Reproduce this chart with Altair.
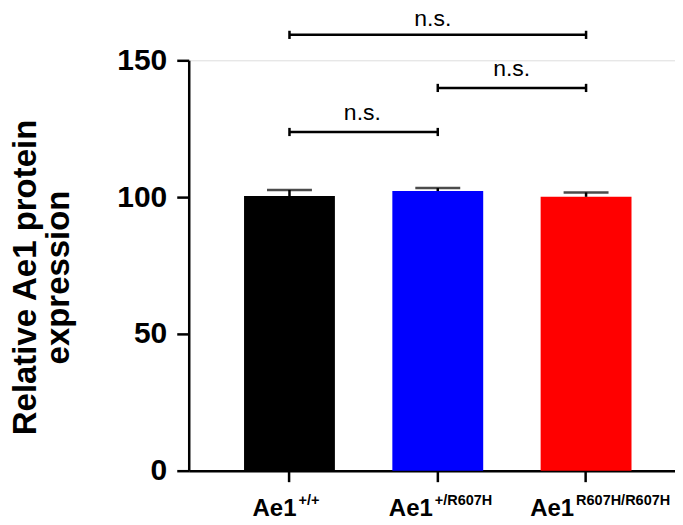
import altair as alt
import pandas as pd

# ---- data ----
groups = ["WT", "HET", "HOM"]
sups = ["+/+", "+/R607H", "R607H/R607H"]
means = [100.4, 102.2, 100.1]
sems = [2.2, 1.1, 1.6]
colors = ["#000000", "#0000FF", "#FF0000"]

# significance brackets: left group, right group, bracket level, label level
br_left = ["WT", "HET", "WT"]
br_right = ["HOM", "HOM", "HET"]
br_y = [159.3, 139.9, 123.8]
br_text_y = [162.4, 144.2, 128.1]
br_text = ["n.s.", "n.s.", "n.s."]

W, H = 487, 411
FONT = "Liberation Sans"

df = pd.DataFrame({"g": groups, "m": means, "s": sems, "c": colors, "sup": sups})
df["top"] = df["m"] + df["s"]

xscale = alt.Scale(domain=groups, paddingInner=0.385, paddingOuter=0.332, align=0.56)
yscale = alt.Scale(domain=[0, 150], nice=False)

x_enc = alt.X("g:N", scale=xscale, sort=groups,
              axis=alt.Axis(title=None, labels=False, ticks=True, tickSize=11,
                            tickWidth=2.5, tickColor="black", domainWidth=2.5,
                            domainColor="black", grid=False))
y_enc = alt.Y("m:Q", scale=yscale,
              axis=alt.Axis(values=[0, 50, 100, 150], title=["Relative Ae1 protein", "expression"],
                            titleFontSize=33, titleFont=FONT, titleFontWeight="bold",
                            titleColor="black", titleAngle=-90, titleAlign="center",
                            titleBaseline="alphabetic", titleX=-153, titleY=217,
                            titleLineHeight=33,
                            labelFontSize=30, labelFont=FONT, labelFontWeight="bold",
                            labelColor="black", labelPadding=10, tickSize=12,
                            tickWidth=2.5, tickColor="black", domainWidth=2.5,
                            domainColor="black", grid=False))

base = alt.Chart(df)

bars = base.mark_bar(size=91).encode(
    x=x_enc, y=y_enc,
    color=alt.Color("c:N", scale=None),
)

err = base.mark_rule(strokeWidth=2.5, color="black").encode(
    x=alt.X("g:N", scale=xscale, sort=groups),
    y=alt.Y("m:Q", scale=yscale),
    y2="top:Q",
)
caps = base.mark_tick(size=45, thickness=2.5, color="black").encode(
    x=alt.X("g:N", scale=xscale, sort=groups),
    y=alt.Y("top:Q", scale=yscale),
)

bdf = pd.DataFrame({"l": br_left, "r": br_right, "y": br_y, "ty": br_text_y, "t": br_text})
bdf["ylo"] = bdf["y"] - 1.5
bdf["yhi"] = bdf["y"] + 1.5
bb = alt.Chart(bdf)

hlines = bb.mark_rule(strokeWidth=2.5, color="black").encode(
    x=alt.X("l:N", scale=xscale, sort=groups),
    x2="r:N",
    y=alt.Y("y:Q", scale=yscale),
)
lcaps = bb.mark_rule(strokeWidth=2.5, color="black").encode(
    x=alt.X("l:N", scale=xscale, sort=groups),
    y=alt.Y("ylo:Q", scale=yscale), y2="yhi:Q",
)
rcaps = bb.mark_rule(strokeWidth=2.5, color="black").encode(
    x=alt.X("r:N", scale=xscale, sort=groups),
    y=alt.Y("ylo:Q", scale=yscale), y2="yhi:Q",
)

layers = [bars, err, caps, hlines, lcaps, rcaps]

# n.s. labels: anchored at a group centre, shifted toward bracket middle
text_anchor = ["HET", "HET", "WT"]
text_dx = [-5, 74, 73]
for i in range(len(br_text)):
    sub = pd.DataFrame({"g": [text_anchor[i]], "ty": [br_text_y[i]], "t": [br_text[i]]})
    layers.append(
        alt.Chart(sub).mark_text(font=FONT, fontSize=23, color="black", align="center",
                                 baseline="alphabetic", dx=text_dx[i]).encode(
            x=alt.X("g:N", scale=xscale, sort=groups),
            y=alt.Y("ty:Q", scale=yscale),
            text="t:N",
        )
    )

# x tick labels with superscripts
main_dx = [7, -5, -12]
for i in range(len(groups)):
    sub = df.iloc[[i]]
    layers.append(
        alt.Chart(sub).mark_text(font=FONT, fontSize=24, fontWeight="bold", color="black",
                                 align="right", baseline="alphabetic", dx=main_dx[i]).encode(
            x=alt.X("g:N", scale=xscale, sort=groups),
            y=alt.value(H + 45),
            text=alt.value("Ae1"),
        )
    )
    layers.append(
        alt.Chart(sub).mark_text(font=FONT, fontSize=14.5, fontWeight="bold", color="black",
                                 align="left", baseline="alphabetic", dx=main_dx[i] + 2).encode(
            x=alt.X("g:N", scale=xscale, sort=groups),
            y=alt.value(H + 34),
            text="sup:N",
        )
    )

chart = alt.layer(*layers).properties(
    width=W, height=H,
    autosize=alt.AutoSizeParams(type="pad"),
    padding={"left": 1, "top": 0, "right": 0, "bottom": 0},
).configure_view(strokeWidth=0, strokeOpacity=0).configure_axis(grid=False).configure(background="white")

chart.save("out.html", embed_options={"renderer": "svg", "actions": False})
